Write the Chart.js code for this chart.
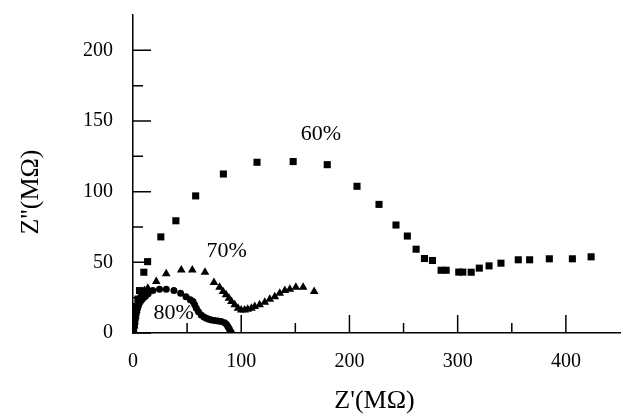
<!DOCTYPE html>
<html>
<head>
<meta charset="utf-8">
<script src="https://cdn.jsdelivr.net/npm/chart.js@4/dist/chart.umd.min.js"></script>
<style>
  html, body { margin: 0; padding: 0; background: #fff; }
  #wrap { width: 626px; height: 415px; }
</style>
</head>
<body>
<div id="wrap"><canvas id="nyquist"></canvas></div>
<script>
// 80% RH (circles)
const zRe80 = [0, 0.3, 0.6, 0.9, 1.2, 1.5, 1.8, 2.1, 2.5, 2.9, 3.3, 3.8, 4.3, 5, 5.8, 6.8, 8, 9.5, 11.5, 14, 18.3, 24.5, 30.7, 37.8, 44, 49, 53, 55.4, 57, 58.5, 60.5, 63, 65.5, 67.8, 70, 72.4, 75.5, 78.5, 81.5, 84.7, 86.5, 87.8, 89, 90, 91];
const zIm80 = [0, 1.5, 3, 4.5, 6, 7.5, 9, 10.5, 12, 13.5, 15, 16.5, 18, 19.5, 21, 22.3, 23.5, 24.8, 26, 27.8, 30, 31, 31, 30, 28.1, 25.7, 23.5, 22.2, 20, 17.5, 15, 12.8, 11.3, 10.4, 9.7, 9.2, 8.8, 8.5, 8.1, 7.3, 6, 4.5, 2.8, 1.2, 0];

// 70% RH (triangles)
const zRe70 = [0.5, 1, 1.5, 2.2, 3, 4, 5.5, 8, 10.5, 13.7, 21.5, 30.7, 44.6, 54.8, 66.5, 74.8, 80, 83.2, 86, 88.7, 91, 94, 97, 100, 103.2, 106, 109.4, 112.5, 117, 121.8, 126.4, 131, 135.6, 140.3, 144.9, 150.5, 157.2, 167.4];
const zIm70 = [2, 5, 8, 12, 16, 20, 24, 28, 30, 31.7, 36.4, 42, 44.5, 44.5, 43, 35.7, 32.4, 29.3, 27, 24.6, 22.2, 19.9, 17.5, 16.3, 16.3, 16.8, 17.5, 18.7, 19.9, 21.8, 23.9, 25.7, 28.1, 30, 31, 32.4, 32.4, 29.3];

// 60% RH (squares)
const zRe60 = [0.5, 1, 1.5, 2, 3, 4.5, 6, 10, 13.5, 25.7, 39.6, 57.9, 83.5, 114.6, 148, 179.5, 207, 227.3, 243, 253.5, 261.6, 269.3, 276.7, 284.7, 289.4, 301, 304.8, 312.5, 320, 329, 340, 356, 366.5, 384.7, 406, 423.3];
const zIm60 = [2, 6, 10, 14, 19, 24, 30, 43, 50.5, 68, 79.4, 97, 112.5, 120.8, 121.3, 119.1, 103.8, 91, 76.4, 68.6, 59.3, 52.7, 51.3, 44.4, 44.4, 43.1, 43.1, 43, 45.9, 47.5, 49.4, 51.8, 51.8, 52.5, 52.5, 53.9];

const seriesNames = ['80%', '70%', '60%'];
const noteRe = [37.5, 86.6, 173.6];
const noteIm = [14.2, 58, 141];

const xMajor = [0, 100, 200, 300, 400];
const xMinor = [50, 150, 250, 350];
const yMajor = [0, 50, 100, 150, 200];
const yMinor = [25, 75, 125, 175];

const serif = '"Liberation Serif", "DejaVu Serif", serif';

function pairs(xs, ys) {
  return xs.map((x, i) => ({ x: x, y: ys[i] }));
}

// ticks pointing into the plot, labels for the series, axis titles
const decorations = {
  id: 'decorations',
  afterDraw(chart) {
    const ctx = chart.ctx;
    const xs = chart.scales.x;
    const ys = chart.scales.y;
    const area = chart.chartArea;
    ctx.save();
    ctx.strokeStyle = '#000';
    ctx.lineWidth = 1.5;
    ctx.beginPath();
    xMajor.concat(xMinor).forEach(v => {
      const len = xMajor.includes(v) ? 18 : 10;
      const px = xs.getPixelForValue(v);
      ctx.moveTo(px, area.bottom);
      ctx.lineTo(px, area.bottom - len);
    });
    yMajor.concat(yMinor).forEach(v => {
      const len = yMajor.includes(v) ? 18 : 10;
      const py = ys.getPixelForValue(v);
      ctx.moveTo(area.left, py);
      ctx.lineTo(area.left + len, py);
    });
    ctx.stroke();

    ctx.fillStyle = '#000';
    ctx.font = '22px ' + serif;
    ctx.textAlign = 'center';
    ctx.textBaseline = 'middle';
    seriesNames.forEach((name, i) => {
      ctx.fillText(name, xs.getPixelForValue(noteRe[i]), ys.getPixelForValue(noteIm[i]));
    });

    ctx.font = '26px ' + serif;
    ctx.fillText("Z'(M\u03A9)", (area.left + area.right) / 2 - 2, 401);
    ctx.translate(31, 192);
    ctx.rotate(-Math.PI / 2);
    ctx.fillText("Z''(M\u03A9)", 0, 0);
    ctx.restore();
  }
};

const ctx = document.getElementById('nyquist').getContext('2d');
new Chart(ctx, {
  type: 'scatter',
  data: {
    datasets: [
      { label: seriesNames[0], data: pairs(zRe80, zIm80), pointStyle: 'circle', pointRadius: 3.5,
        backgroundColor: '#000', borderColor: '#000', borderWidth: 0 },
      { label: seriesNames[1], data: pairs(zRe70, zIm70), pointStyle: 'triangle', pointRadius: 5,
        backgroundColor: '#000', borderColor: '#000', borderWidth: 0 },
      { label: seriesNames[2], data: pairs(zRe60, zIm60), pointStyle: 'rect', pointRadius: 5,
        backgroundColor: '#000', borderColor: '#000', borderWidth: 0 }
    ]
  },
  options: {
    responsive: true,
    maintainAspectRatio: false,
    animation: false,
    layout: { padding: { left: 0, right: 6, top: 15, bottom: 0 } },
    plugins: { legend: { display: false }, tooltip: { enabled: false } },
    scales: {
      x: {
        type: 'linear',
        min: 0,
        max: 450,
        afterFit(scale) {
          scale.height = 82;
          scale.paddingLeft = 0;
          scale.paddingRight = 0;
        },
        grid: { display: true, drawOnChartArea: false, drawTicks: false },
        border: { display: true, color: '#000', width: 1.5 },
        ticks: {
          stepSize: 50,
          autoSkip: false,
          maxRotation: 0,
          padding: 17,
          color: '#000',
          font: { family: serif, size: 20 },
          callback: v => (xMajor.includes(v) ? String(v) : '')
        }
      },
      y: {
        type: 'linear',
        min: 0,
        max: 225,
        afterFit(scale) {
          scale.width = 133;
          scale.paddingTop = 0;
          scale.paddingBottom = 0;
        },
        grid: { display: true, drawOnChartArea: false, drawTicks: false },
        border: { display: true, color: '#000', width: 1.5 },
        ticks: {
          stepSize: 25,
          autoSkip: false,
          padding: 20,
          color: '#000',
          font: { family: serif, size: 20 },
          callback: v => (yMajor.includes(v) ? String(v) : '')
        }
      }
    }
  },
  plugins: [decorations]
});
</script>
</body>
</html>
